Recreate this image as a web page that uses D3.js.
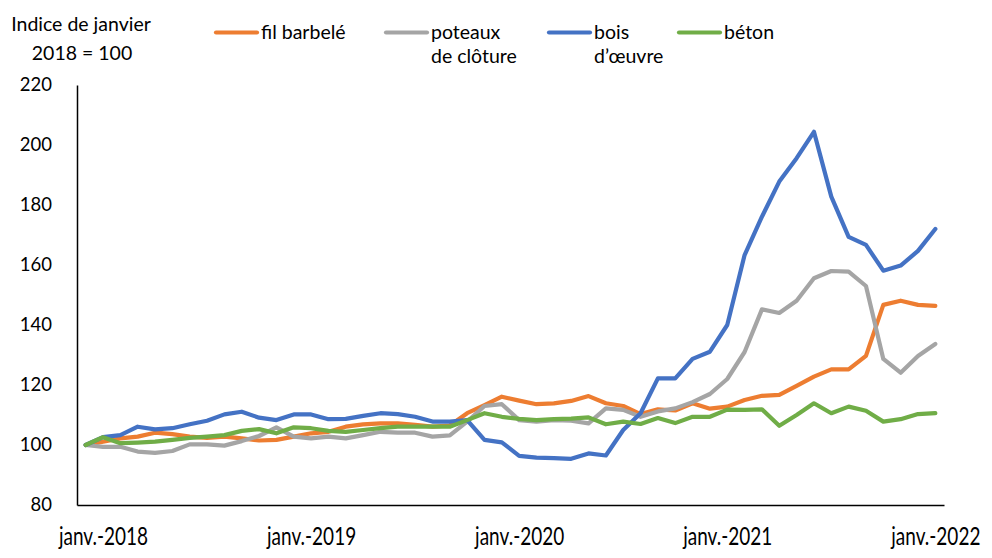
<!DOCTYPE html>
<html>
<head>
<meta charset="utf-8">
<script src="https://cdn.jsdelivr.net/npm/d3@7"></script>
<style>
  html, body { margin: 0; padding: 0; background: #fff; }
  svg { display: block; }
  text { font-family: Lato, "Open Sans", sans-serif; fill: #000; }
</style>
</head>
<body>
<svg id="chart" width="992" height="558"></svg>
<script>
// ---- Data ----
const categories = [
  "déc.-2017",
  "janv.-2018","févr.-2018","mars-2018","avr.-2018","mai-2018","juin-2018","juil.-2018","août-2018","sept.-2018","oct.-2018","nov.-2018","déc.-2018",
  "janv.-2019","févr.-2019","mars-2019","avr.-2019","mai-2019","juin-2019","juil.-2019","août-2019","sept.-2019","oct.-2019","nov.-2019","déc.-2019",
  "janv.-2020","févr.-2020","mars-2020","avr.-2020","mai-2020","juin-2020","juil.-2020","août-2020","sept.-2020","oct.-2020","nov.-2020","déc.-2020",
  "janv.-2021","févr.-2021","mars-2021","avr.-2021","mai-2021","juin-2021","juil.-2021","août-2021","sept.-2021","oct.-2021","nov.-2021","déc.-2021",
  "janv.-2022"
];
const xTickLabels = ["janv.-2018","janv.-2019","janv.-2020","janv.-2021","janv.-2022"];
const yTicks = [80, 100, 120, 140, 160, 180, 200, 220];

const filBarbele = [100,101.1,102.2,102.8,104.1,103.6,102.8,102.4,102.8,102.2,
  101.5,101.7,102.8,103.9,104.4,106.1,106.9,107.2,107.2,106.7,
  106.1,106.5,110.6,113.3,116.1,114.8,113.6,113.9,114.7,116.3,
  113.9,113.0,110.3,111.9,111.5,113.9,112.1,112.8,115.0,116.4,
  116.7,119.7,122.8,125.2,125.2,129.7,146.7,148.1,146.7,146.4];
const poteaux = [100,99.4,99.4,97.8,97.4,98.0,100.2,100.2,99.8,101.3,
  103.0,105.9,102.8,102.2,102.8,102.2,103.3,104.4,104.1,104.1,
  102.8,103.2,107.8,113.0,113.6,108.3,107.8,108.3,108.1,107.2,
  112.2,111.7,109.4,111.2,112.2,114.3,117.0,122.0,131.0,145.2,
  144.0,148.1,155.6,158.0,157.8,153.0,128.7,124.1,129.7,133.7];
const boisOeuvre = [100,102.6,103.3,106.1,105.2,105.6,106.9,108.1,110.2,111.1,
  109.1,108.3,110.2,110.2,108.6,108.7,109.7,110.6,110.3,109.4,
  107.8,107.8,108.3,101.7,100.9,96.4,95.8,95.6,95.4,97.2,
  96.5,105.0,110.6,122.2,122.2,128.7,131.1,140.0,163.3,176.1,
  187.8,195.6,204.4,182.8,169.4,166.7,158.1,159.8,164.7,172.0];
const beton = [100,102.6,100.6,100.8,101.1,101.7,102.4,102.8,103.3,104.7,
  105.3,103.9,105.9,105.6,104.7,104.4,105.0,105.6,106.1,106.1,
  106.1,106.1,108.3,110.6,109.4,108.7,108.3,108.6,108.8,109.2,
  106.9,107.8,107.0,109.0,107.3,109.4,109.4,111.8,111.7,111.9,
  106.4,110.0,113.9,110.6,112.8,111.4,107.8,108.6,110.3,110.6];

const seriesNames = ["fil barbelé", ["poteaux", "de clôture"], ["bois", "d\u2019\u0153uvre"], "béton"];
const seriesValues = [filBarbele, poteaux, boisOeuvre, beton];
const seriesColors = ["#ED7D31", "#A5A5A5", "#4472C4", "#70AD47"];
const yTitle = ["Indice de janvier", "2018 = 100"];

// ---- Chart ----
const svg = d3.select("#chart");
const x = d3.scalePoint().domain(d3.range(categories.length)).range([77, 944]).padding(0.5);
const y = d3.scaleLinear().domain([80, 220]).range([505, 85]);

// lines
const line = d3.line().x((d, i) => x(i)).y(d => y(d)).curve(d3.curveLinear);
seriesValues.forEach((vals, k) => {
  svg.append("path")
    .datum(vals)
    .attr("d", line)
    .attr("fill", "none")
    .attr("stroke", seriesColors[k])
    .attr("stroke-width", 4.2)
    .attr("stroke-linejoin", "round")
    .attr("stroke-linecap", "round");
});

// y axis
const yAxis = svg.append("g")
  .attr("transform", "translate(77,0)")
  .call(d3.axisLeft(y).tickValues(yTicks).tickSize(0).tickPadding(25));
yAxis.select(".domain").attr("stroke", "#000").attr("stroke-width", 1.5);
yAxis.selectAll("text").style("font-size", "18.5px").style("font-family", "Lato").attr("fill", "#000");

// x axis
const tickIdx = xTickLabels.map(l => categories.indexOf(l));
const xAxis = svg.append("g")
  .attr("transform", "translate(0,505)")
  .call(d3.axisBottom(x).tickValues(tickIdx).tickSize(0).tickFormat(i => categories[i]));
xAxis.select(".domain").attr("stroke", "#000").attr("stroke-width", 1.5);
xAxis.selectAll(".tick text")
  .style("font-size", "19px").style("font-family", "Lato").attr("fill", "#000")
  .attr("dy", 0).attr("y", 30.5)
  .attr("transform", "scale(1,1.32)");

// y title
svg.append("text").attr("x", 81).attr("y", 31).attr("text-anchor", "middle")
  .style("font-size", "19.5px").text(yTitle[0]);
svg.append("text").attr("x", 82).attr("y", 59.5).attr("text-anchor", "middle")
  .style("font-size", "19.5px").text(yTitle[1]);

// legend
const legendX = [215, 385, 548, 678];
seriesNames.forEach((name, k) => {
  const g = svg.append("g").attr("transform", `translate(${legendX[k]},0)`);
  g.append("line").attr("x1", 1).attr("x2", 42).attr("y1", 32.5).attr("y2", 32.5)
    .attr("stroke", seriesColors[k]).attr("stroke-width", 4.2).attr("stroke-linecap", "round");
  const lines = Array.isArray(name) ? name : [name];
  lines.forEach((t, j) => {
    g.append("text").attr("x", 46).attr("y", 38.5 + j * 24.5)
      .style("font-size", "19.5px").text(t);
  });
});
</script>
</body>
</html>
